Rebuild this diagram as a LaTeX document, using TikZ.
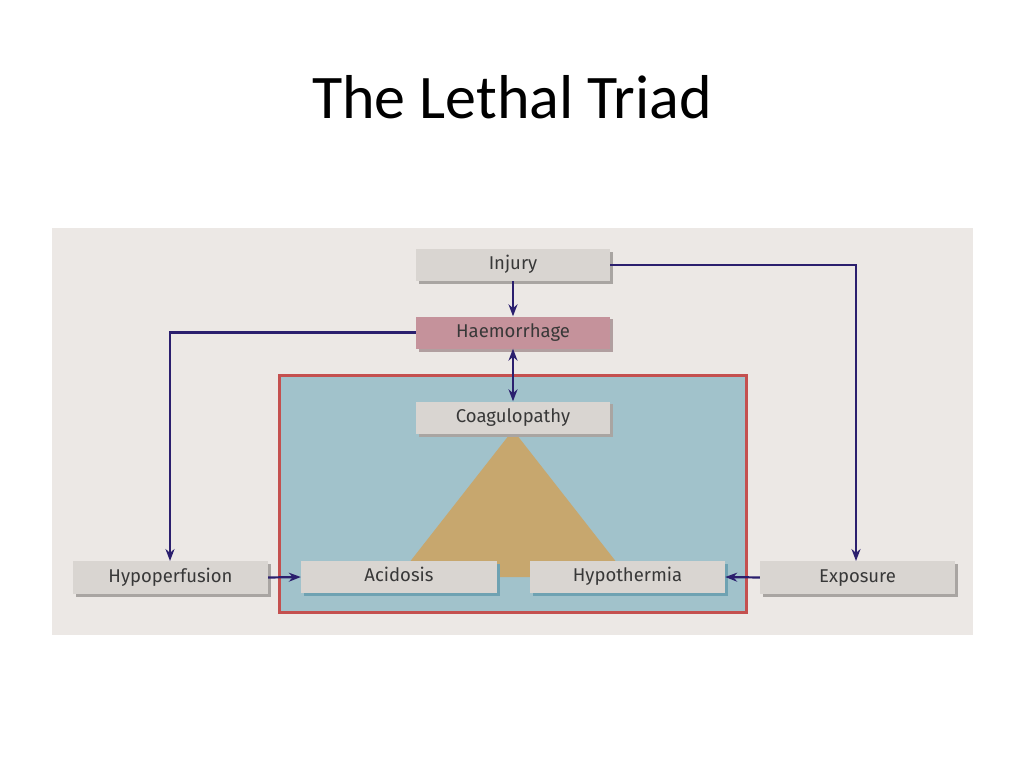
\documentclass[tikz,border=0pt]{standalone}
\usepackage{fontspec}
\setmainfont{Carlito}
\newfontfamily\boxfont{Fira Sans}
\usetikzlibrary{arrows.meta}
\definecolor{panel}{HTML}{ECE8E5}
\definecolor{boxgray}{HTML}{D9D5D1}
\definecolor{shadowgray}{HTML}{A9A5A2}
\definecolor{shadowblue}{HTML}{6FA2B2}
\definecolor{pinkbox}{HTML}{C5929B}
\definecolor{frameblue}{HTML}{A1C2CB}
\definecolor{framered}{HTML}{C4504F}
\definecolor{tan}{HTML}{C7A76E}
\definecolor{navy}{HTML}{2B1F6E}
\definecolor{txt}{HTML}{383838}
\tikzset{
  x=1pt, y=-1pt,
  lbox/.style={minimum width=194pt, minimum height=32pt, inner sep=0pt, fill=boxgray,
    text height=13.5pt, text depth=4pt,
    font=\boxfont\fontsize{18.5}{22}\selectfont, text=txt},
  conn/.style={draw=navy, line width=2.2pt, -{Stealth[length=12pt,width=9pt]}},
  dconn/.style={draw=navy, line width=2.2pt, {Stealth[length=12pt,width=9pt]}-{Stealth[length=12pt,width=9pt]}},
}
\begin{document}
\begin{tikzpicture}
\useasboundingbox (0,0) rectangle (1024,768);
\fill[white] (0,0) rectangle (1024,768);
\node[font=\fontsize{62}{72}\selectfont] (title) at (512,97) {The Lethal Triad};
\fill[panel] (52,228) rectangle (973,635);
% frame
\draw[fill=frameblue, draw=framered, line width=3pt] (279,375) rectangle (746,612);
% triangle
\fill[tan] (513,430) -- (398,577) -- (628,577) -- cycle;
% shadows
\fill[shadowgray] (419,252) rectangle (613,284);
\fill[shadowgray!70!pinkbox] (419,319) rectangle (613,352);
\fill[shadowgray] (419,404) rectangle (613,437);
\fill[shadowgray] (76,564) rectangle (271,597);
\fill[shadowgray] (763,564) rectangle (958,597);
\fill[shadowblue] (304,564) rectangle (500,596);
\fill[shadowblue] (533,564) rectangle (728,596);
% boxes
\node[lbox] (inj) at (513,265) {Injury};
\node[lbox, fill=pinkbox] (hae) at (513,332.5) {Haemorrhage};
\node[lbox] (coa) at (513,417.5) {Coagulopathy};
\node[lbox, minimum width=196pt] (aci) at (399,577) {Acidosis};
\node[lbox, minimum width=195pt] (hyt) at (627.5,577) {Hypothermia};
\node[lbox, minimum width=195pt, minimum height=33pt] (hyp) at (170.5,577.5) {Hypoperfusion};
\node[lbox, minimum width=195pt, minimum height=33pt] (exp) at (857.5,577.5) {Exposure};
% connectors
\coordinate (hypin) at (170,561);
\coordinate (expin) at (856,561);
\draw[conn] (inj) -- (hae);
\draw[dconn] (hae) -- (coa);
\draw[conn] (hae.west) -| (hypin);
\draw[conn] (inj.east) -| (expin);
\draw[conn] (hyp.east) -- (aci.west);
\draw[conn] (exp.west) -- (hyt.east);
\end{tikzpicture}
\end{document}
